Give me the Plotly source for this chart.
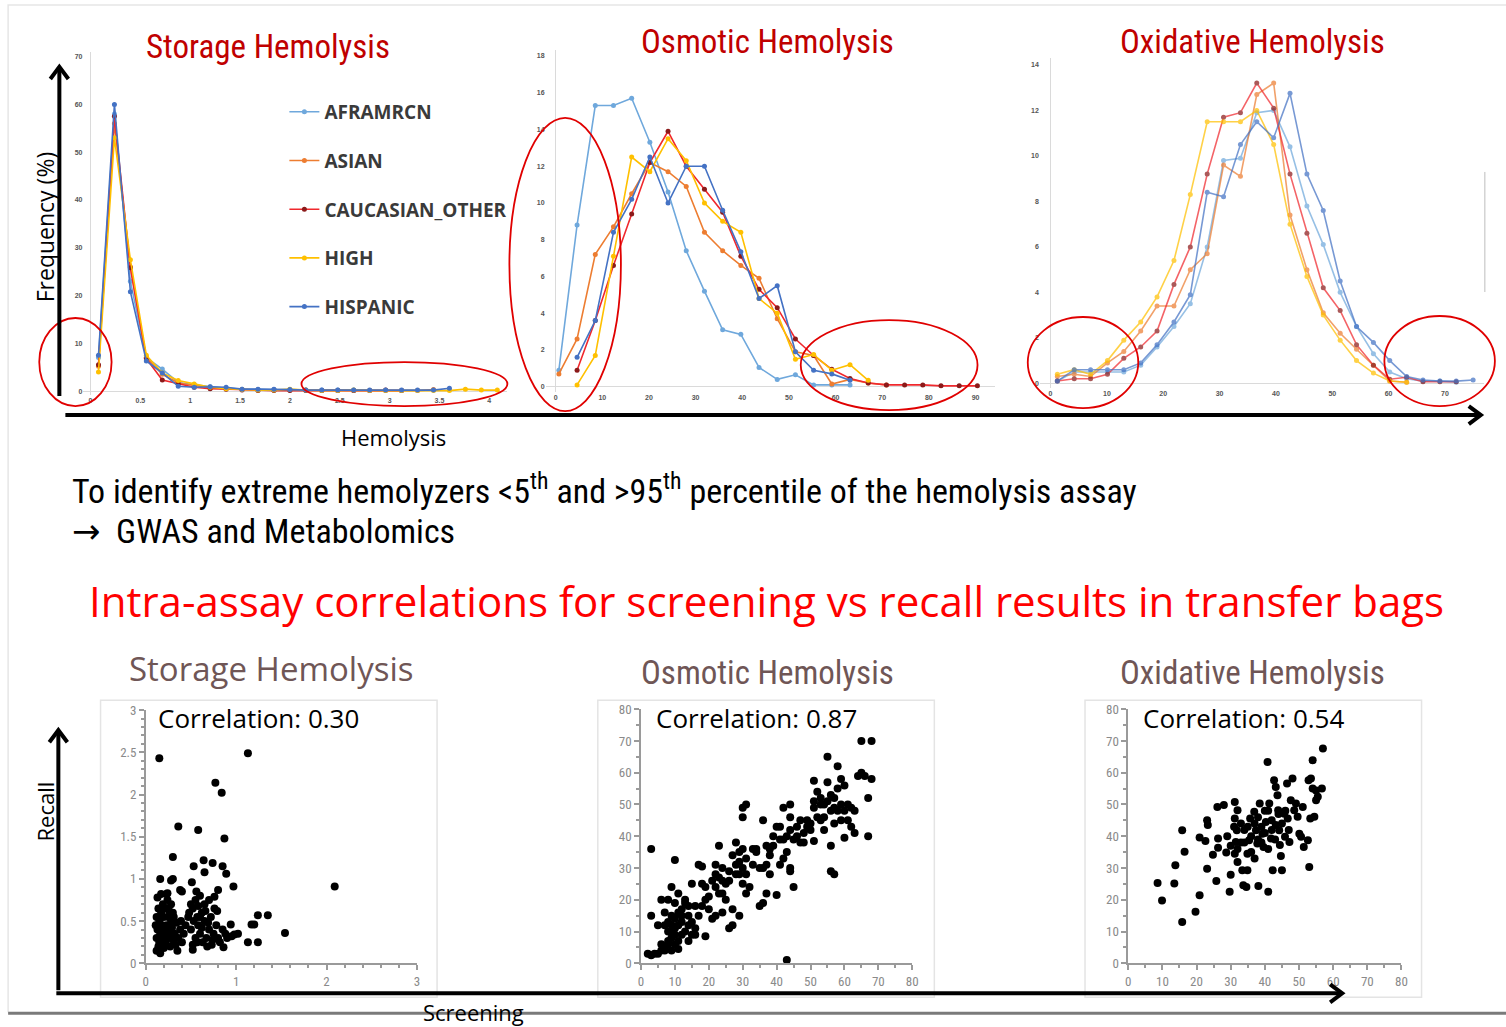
import plotly.graph_objects as go

W, H = 1506, 1027
# The captured page comes out slightly shrunk and shifted (page margin); reference
# pixel positions are mapped back through this small linear correction.
SX, OX = 0.9895, 7.9
SY, OY = 0.985, 7.1

# ---------------- DATA ----------------
series_names = ["AFRAMRCN", "ASIAN", "CAUCASIAN_OTHER", "HIGH", "HISPANIC"]
line_colors = ["#6FA8DC", "#ED7D31", "#F0282D", "#FFC000", "#4472C4"]
marker_colors = ["#6FA8DC", "#ED7D31", "#8B1A1A", "#FFC000", "#4472C4"]

# Storage hemolysis distribution (%), bins of hemolysis
storage_bins = [0.08, 0.24, 0.40, 0.56, 0.72, 0.88, 1.04, 1.20, 1.36, 1.52, 1.68, 1.84, 2.00,
                2.16, 2.32, 2.48, 2.64, 2.80, 2.96, 3.12, 3.28, 3.44, 3.60, 3.76, 3.92, 4.08]
storage_aframrcn = [7.0, 58.0, 23.0, 7.0, 4.6, 1.8, 1.3, 0.9, 0.6, 0.4, 0.3, 0.3, 0.2, 0.2, 0.2,
                    0.2, 0.2, None, None, None, None, None, None, None, None, None]
storage_asian = [5.2, 56.0, 26.0, 7.0, 3.5, 1.7, 1.2, 0.7, 0.5, 0.3, 0.2, 0.2, 0.2, 0.2, 0.1,
                 0.1, 0.1, 0.1, 0.1, 0.1, 0.1, 0.3, None, None, None, None]
storage_caucasian = [5.5, 57.5, 25.8, 6.8, 2.3, 1.5, 0.8, 0.5, 0.4, 0.2, 0.1, 0.1, 0.1, 0.1,
                     0.1, 0.1, 0.1, 0.1, 0.2, 0.1, None, None, None, None, None, None]
storage_high = [4.0, 53.0, 27.5, 7.5, 3.8, 2.2, 1.5, 0.8, 0.5, 0.3, 0.2, 0.2, 0.4, 0.2, 0.1,
                0.1, 0.2, 0.1, 0.1, 0.1, 0.1, 0.1, 0.1, 0.4, 0.2, 0.2]
storage_hispanic = [7.5, 60.0, 20.8, 6.3, 3.8, 1.0, 0.8, 0.9, 0.8, 0.4, 0.4, 0.4, 0.3, 0.2,
                    0.2, 0.2, 0.2, 0.2, 0.2, 0.2, 0.2, 0.2, 0.6, None, None, None]

# Osmotic hemolysis distribution (%)
osmotic_bins = [0.7, 4.6, 8.5, 12.4, 16.3, 20.2, 24.1, 28.0, 31.9, 35.8, 39.7, 43.6, 47.5,
                51.4, 55.3, 59.2, 63.1, 67.0, 70.9, 74.8, 78.7, 82.6, 86.5, 90.4]
osmotic_aframrcn = [0.9, 8.8, 15.3, 15.3, 15.7, 13.3, 10.6, 7.4, 5.2, 3.1, 2.85, 1.05, 0.4,
                    0.65, 0.1, 0.1, 0.1, None, None, None, None, None, None, None]
osmotic_asian = [0.7, 2.6, 7.2, 8.7, 10.5, 12.2, 11.7, 10.9, 8.4, 7.4, 6.6, 5.9, 3.7, 1.9,
                 1.7, 0.15, 0.4, 0.2, 0.1, None, None, None, None, None]
osmotic_caucasian = [None, 0.9, 3.6, 6.6, 9.4, 12.2, 13.9, 12.0, 10.75, 9.5, 7.1, 5.3, 4.3,
                     2.6, 1.7, 0.95, 0.45, 0.2, 0.1, 0.1, 0.1, 0.05, 0.05, 0.05]
osmotic_high = [None, 0.1, 1.7, 7.1, 12.5, 11.7, 13.5, 12.3, 10.0, 9.0, 8.4, 4.8, 4.0, 1.5,
                1.75, 0.9, 1.2, 0.35, None, None, None, None, None, None]
osmotic_hispanic = [None, 1.6, 3.6, 8.4, 10.2, 12.5, 10.0, 12.0, 12.0, 9.6, 7.35, 4.8, 5.5,
                    1.9, 0.9, 0.7, 0.35, None, None, None, None, None, None, None]

# Oxidative hemolysis distribution (%)
oxidative_bins = [1.2, 4.2, 7.1, 10.1, 13.0, 16.0, 18.9, 21.9, 24.8, 27.8, 30.7, 33.7, 36.6,
                  39.6, 42.5, 45.5, 48.4, 51.4, 54.3, 57.3, 60.2, 63.2, 66.1, 69.1, 72.0, 75.0]
oxidative_aframrcn = [0.1, 0.5, 0.5, 0.5, 0.5, 0.8, 1.6, 2.5, 3.5, 6.0, 9.8, 9.9, 11.9, 12.0,
                      10.4, 7.8, 6.1, 4.0, 2.5, 1.3, 0.5, 0.2, 0.1, 0.1, 0.05, None]
oxidative_asian = [0.3, 0.4, 0.3, 0.9, 1.4, 2.3, 3.4, 3.4, 5.0, 5.7, 9.6, 9.1, 12.7, 13.2,
                   7.4, 5.0, 3.1, 2.2, 1.5, 0.8, 0.1, 0.05, None, None, None, None]
oxidative_caucasian = [0.1, 0.2, 0.2, 0.4, 1.1, 1.6, 2.3, 4.35, 6.0, 9.2, 11.7, 11.9, 13.2,
                       12.1, 9.2, 6.6, 4.2, 3.2, 1.7, 0.8, 0.18, 0.27, 0.07, 0.07, 0.07, None]
oxidative_high = [0.4, 0.6, 0.4, 1.0, 1.9, 2.7, 3.8, 5.4, 8.3, 11.5, 11.5, 11.5, 12.0, 10.5,
                  7.0, 4.7, 3.0, 1.9, 1.0, 0.45, 0.1, 0.05, None, None, None, None]
oxidative_hispanic = [0.1, 0.6, 0.6, 0.6, 0.6, 0.9, 1.7, 2.7, 3.9, 8.4, 8.2, 10.5, 11.5, 10.8,
                      12.75, 9.2, 7.6, 4.5, 2.5, 1.8, 1.0, 0.3, 0.15, 0.1, 0.1, 0.15]

# Screening vs recall scatter data
storage_pairs = [
    (0.15, 2.43), (1.13, 2.49), (0.77, 2.14), (0.84, 2.02), (0.36, 1.62), (0.58, 1.58),
    (0.87, 1.48), (0.30, 1.26), (0.64, 1.22), (0.74, 1.19), (0.53, 1.15), (0.85, 1.15),
    (0.65, 1.08), (0.89, 1.06), (0.16, 1.00), (0.30, 1.00), (0.28, 0.98), (0.51, 0.96),
    (0.97, 0.91), (2.09, 0.91), (0.38, 0.87), (0.40, 0.85), (0.17, 0.82), (0.24, 0.83),
    (0.56, 0.85), (0.80, 0.87), (0.76, 0.79), (1.24, 0.57), (1.35, 0.57), (1.17, 0.46),
    (1.20, 0.46), (0.94, 0.46), (1.54, 0.36), (1.13, 0.25), (1.24, 0.25), (1.02, 0.35),
    (0.86, 0.19), (0.52, 0.16),
    (0.12, 0.15), (0.14, 0.20), (0.15, 0.25), (0.12, 0.30), (0.16, 0.35), (0.13, 0.40),
    (0.18, 0.45), (0.15, 0.50), (0.20, 0.55), (0.17, 0.60), (0.22, 0.65), (0.19, 0.70),
    (0.24, 0.75), (0.20, 0.18), (0.22, 0.25), (0.25, 0.30), (0.21, 0.35), (0.27, 0.40),
    (0.23, 0.45), (0.28, 0.50), (0.25, 0.55), (0.30, 0.60), (0.27, 0.20), (0.30, 0.28),
    (0.32, 0.35), (0.29, 0.42), (0.34, 0.48), (0.31, 0.55), (0.36, 0.30), (0.33, 0.22),
    (0.38, 0.40), (0.35, 0.15), (0.40, 0.25), (0.42, 0.35), (0.12, 0.55), (0.14, 0.65),
    (0.11, 0.45), (0.18, 0.30), (0.16, 0.12), (0.26, 0.62), (0.28, 0.70), (0.23, 0.82),
    (0.13, 0.78), (0.20, 0.40), (0.24, 0.35), (0.17, 0.22), (0.29, 0.33), (0.44, 0.45),
    (0.39, 0.50),
    (0.48, 0.60), (0.50, 0.70), (0.52, 0.65), (0.55, 0.75), (0.57, 0.55), (0.60, 0.80),
    (0.58, 0.45), (0.53, 0.50), (0.62, 0.60), (0.65, 0.50), (0.60, 0.35), (0.55, 0.30),
    (0.50, 0.40), (0.63, 0.25), (0.67, 0.30), (0.70, 0.40), (0.72, 0.55), (0.75, 0.35),
    (0.78, 0.45), (0.80, 0.30), (0.73, 0.22), (0.68, 0.20), (0.85, 0.40), (0.88, 0.35),
    (0.90, 0.30), (0.95, 0.32), (0.82, 0.25), (0.76, 0.65), (0.65, 0.70), (0.70, 0.75),
    (0.57, 0.25), (0.47, 0.55), (0.62, 0.42), (0.66, 0.62), (0.58, 0.68), (0.52, 0.22),
    (0.69, 0.48), (0.74, 0.28), (0.79, 0.62), (0.98, 0.34), (0.60, 0.55),
]
osmotic_pairs = [
    (3, 36), (10, 32.5), (3, 15), (5, 12), (2, 3), (3, 2.5), (4, 3), (5, 3), (6, 4), (7, 5),
    (8, 6), (7, 4), (9, 8), (8, 10), (9, 12), (10, 11), (8, 13), (9, 15), (10, 14), (11, 16),
    (7, 16), (8, 20), (9, 24), (10, 19), (11, 22), (12, 17), (12, 13), (13, 19), (14, 15),
    (15, 25), (14, 18), (13, 10), (12, 9), (11, 7), (15, 13), (16, 11), (17, 31), (18, 30.5),
    (19, 8.5), (18, 18), (19, 20), (20, 21), (18, 25), (17, 15), (16, 18), (20, 17), (21, 14),
    (23, 37), (22, 31), (24, 30), (23, 27), (22, 24), (24, 22), (25, 25), (26, 26), (25, 20),
    (24, 16), (22, 15), (26, 11), (27, 12), (27, 17), (28, 38), (29, 32), (30, 36), (28, 31),
    (29, 28), (30, 25), (31, 22), (30, 30), (31, 33), (29, 15), (30, 46), (30, 49), (31, 50),
    (32, 24), (33, 36), (34, 36), (35, 18), (36, 19), (36, 30), (37, 31), (37, 37), (38, 36),
    (36, 45), (37, 22), (38, 28), (39, 40), (40, 43), (41, 39), (40, 21.5), (41, 31), (42, 33),
    (43, 35), (43, 40), (42, 49), (44, 50), (44, 46), (44, 42), (44, 30), (44, 29), (45, 24),
    (45, 39), (46, 40), (47, 38), (48, 41), (49, 45), (50, 42), (51, 38.5), (51, 49), (51, 51),
    (51, 57.5), (52, 54), (53, 50), (53, 45), (54, 46), (54, 42), (55, 51), (55, 57), (55, 65),
    (56, 48), (56, 37), (56, 29), (57, 28), (57, 44), (57, 52), (58, 62), (58, 55), (59, 58),
    (59, 50), (60, 56), (60, 48), (60, 39.5), (61, 45), (62, 43), (62, 49), (63, 41), (64, 59),
    (65, 60), (65, 70), (66, 59), (67, 52), (67, 40), (68, 58), (68, 70), (43, 1), (13, 20),
    (14, 12), (6, 20), (9, 10), (10, 9), (7, 12), (8, 7), (11, 12), (12, 15), (10, 6), (9, 4),
    (6, 6), (11, 4.5), (14, 7), (15, 9), (16, 9), (19, 24), (21, 26), (22, 28), (23, 22),
    (24, 26), (26, 29), (27, 34), (28, 28), (29, 35), (31, 28), (33, 31), (34, 35), (35, 30),
    (38, 34), (39, 37), (41, 43), (42, 39), (46, 43), (47, 45), (48, 38), (50, 44), (52, 46),
    (53, 52), (54, 50), (56, 53), (58, 48), (59, 45), (61, 50), (63, 48), (57, 49), (49, 43),
]
oxidative_pairs = [
    (8.6, 25.3), (9.9, 19.8), (13.8, 30.9), (13.5, 25.1), (15.8, 41.9), (16.5, 35.1),
    (15.8, 13.0), (19.7, 16.2), (20.9, 21.4), (20.9, 39.6), (22.6, 38.5), (23.1, 29.8),
    (23.1, 45.0), (23.3, 43.5), (24.8, 34.2), (25.8, 25.9), (26.3, 39.3), (26.3, 36.4),
    (26.1, 49.2), (28.0, 49.8), (28.7, 34.9), (29.7, 22.5), (30.0, 27.9), (31.2, 50.8),
    (31.2, 45.6), (32.0, 48.2), (31.8, 41.9), (31.5, 38.2), (31.2, 34.5), (32.0, 31.9),
    (33.4, 29.3), (33.7, 24.6), (34.6, 24.0), (34.9, 29.3), (34.9, 34.5), (35.4, 38.7),
    (35.7, 45.6), (36.9, 47.7), (37.4, 41.9), (37.8, 37.7), (38.1, 24.3), (38.5, 50.3),
    (39.3, 40.8), (39.6, 36.6), (40.3, 44.5), (40.8, 63.4), (41.0, 22.5), (41.3, 50.3),
    (41.8, 39.3), (42.3, 29.3), (42.7, 57.6), (43.2, 55.5), (43.2, 43.5), (43.7, 52.9),
    (43.9, 48.2), (44.2, 41.9), (44.4, 37.2), (44.7, 33.8), (45.0, 29.3), (45.7, 47.1),
    (45.9, 39.8), (46.5, 56.6), (46.7, 45.6), (47.2, 38.2), (47.6, 51.3), (48.1, 58.2),
    (48.6, 48.2), (49.1, 50.3), (49.6, 46.1), (50.1, 40.8), (50.6, 39.8), (51.1, 49.2),
    (51.4, 36.6), (52.6, 38.7), (52.8, 57.6), (53.0, 30.3), (53.3, 45.6), (54.0, 63.9),
    (54.0, 55.0), (54.5, 46.1), (55.0, 51.3), (55.0, 54.4), (55.5, 52.4), (57.0, 67.6),
    (56.7, 55.0), (53.5, 58.2),
    (33, 38), (34, 42), (36, 40), (37, 44), (38, 46), (39, 38), (40, 41), (41, 36), (42, 45),
    (43, 39), (44, 47), (36, 35), (35, 43), (38, 39), (40, 48), (42, 42), (37, 33), (32, 36),
    (33, 44), (39, 43), (41, 48), (34, 38), (45, 44), (46, 48), (47, 42), (30, 37), (29, 40),
    (31, 43),
]

panel_titles = ["Storage Hemolysis", "Osmotic Hemolysis", "Oxidative Hemolysis"]
correlations = ["0.30", "0.87", "0.54"]

# ---------------- helpers (layout geometry, reference pixels -> paper) ----------------
def X(p):
    return ((p - OX) / SX) / W

def Y(p):
    return 1 - ((p - OY) / SY) / H

def rng(d0, d1, p0, v0, p1, v1):
    s = (v1 - v0) / (p1 - p0)
    return [v0 + (d0 - p0) * s, v0 + (d1 - p0) * s]

def dx(a, b):
    return [X(a), X(b)]

def dy(bottom, top):
    return [Y(bottom), Y(top)]

NARROW = "Liberation Sans Narrow, Roboto Condensed, Roboto, sans-serif"
OPEN = "Open Sans, sans-serif"

fig = go.Figure()

top_sets = [
    (storage_bins, [storage_aframrcn, storage_asian, storage_caucasian, storage_high, storage_hispanic], "x", "y", 1.0),
    (osmotic_bins, [osmotic_aframrcn, osmotic_asian, osmotic_caucasian, osmotic_high, osmotic_hispanic], "x2", "y2", 1.0),
    (oxidative_bins, [oxidative_aframrcn, oxidative_asian, oxidative_caucasian, oxidative_high, oxidative_hispanic], "x3", "y3", 0.72),
]
for k, (bins, sers, xa, ya, op) in enumerate(top_sets):
    for i, vals in enumerate(sers):
        fig.add_trace(go.Scatter(
            x=bins, y=vals, xaxis=xa, yaxis=ya, mode="lines+markers",
            name=series_names[i], legendgroup=series_names[i], showlegend=(k == 0),
            line=dict(color=line_colors[i], width=1.6),
            marker=dict(color=marker_colors[i], size=5),
            opacity=op, connectgaps=False, cliponaxis=False,
        ))

for pairs, xa, ya in [(storage_pairs, "x4", "y4"), (osmotic_pairs, "x5", "y5"), (oxidative_pairs, "x6", "y6")]:
    fig.add_trace(go.Scatter(
        x=[p[0] for p in pairs], y=[p[1] for p in pairs], xaxis=xa, yaxis=ya,
        mode="markers", marker=dict(color="black", size=8), showlegend=False,
        cliponaxis=False,
    ))

top_tick_font = dict(size=7, color="#555", family="Arial, sans-serif", weight="bold")
top_ax = dict(showgrid=False, showline=False, zeroline=True, zerolinecolor="#dadada",
              zerolinewidth=1, ticks="", tickfont=top_tick_font, fixedrange=True)

bot_tick_font = dict(size=13, color="#8a8a8a", family=NARROW)
minor_style = dict(ticklen=3, tickcolor="#9a9a9a", ticks="outside")
bot_ax = dict(showgrid=False, showline=True, linecolor="#9a9a9a", linewidth=1.5, zeroline=False,
              ticks="outside", ticklen=5, tickcolor="#9a9a9a", tickwidth=1.5,
              tickfont=bot_tick_font, fixedrange=True)

fig.update_layout(
    width=W, height=H, margin=dict(l=0, r=0, t=0, b=0),
    paper_bgcolor="white", plot_bgcolor="rgba(0,0,0,0)",
    showlegend=True,
    legend=dict(x=X(288), y=Y(93), xanchor="left", yanchor="top",
                font=dict(size=19, color="#3a3a3a", family=OPEN, weight="bold"),
                bgcolor="rgba(0,0,0,0)", tracegroupgap=21, itemwidth=30),
    xaxis=dict(top_ax, domain=dx(88, 510), range=rng(88, 510, 95, 0, 492, 4), tickvals=[0, 0.5, 1, 1.5, 2, 2.5, 3, 3.5, 4], anchor="y"),
    yaxis=dict(top_ax, domain=dy(395, 52), range=rng(395, 52, 391, 0, 56.7, 70), tickvals=[0, 10, 20, 30, 40, 50, 60, 70], anchor="x"),
    xaxis2=dict(top_ax, domain=dx(548, 995), range=rng(548, 995, 558, 0, 976, 90), tickvals=list(range(0, 91, 10)), anchor="y2"),
    yaxis2=dict(top_ax, domain=dy(392, 50), range=rng(392, 50, 386.7, 0, 56, 18), tickvals=list(range(0, 19, 2)), anchor="x2"),
    xaxis3=dict(top_ax, domain=dx(1040, 1482), range=rng(1040, 1482, 1050.7, 0, 1443.3, 70), tickvals=list(range(0, 71, 10)), anchor="y3"),
    yaxis3=dict(top_ax, domain=dy(388, 58), range=rng(388, 58, 383.3, 0, 65, 14), tickvals=list(range(0, 15, 2)), anchor="x3"),
    xaxis4=dict(bot_ax, domain=dx(150, 420), range=[0, 3], tickvals=[0, 1, 2, 3], anchor="y4",
                minor=dict(minor_style, dtick=0.2)),
    yaxis4=dict(bot_ax, domain=dy(963, 710), range=[0, 3], tickvals=[0, 0.5, 1, 1.5, 2, 2.5, 3], anchor="x4",
                minor=dict(minor_style, dtick=0.1)),
    xaxis5=dict(bot_ax, domain=dx(643, 913), range=[0, 80], tickvals=list(range(0, 81, 10)), anchor="y5",
                minor=dict(minor_style, dtick=5)),
    yaxis5=dict(bot_ax, domain=dy(963, 709), range=[0, 80], tickvals=list(range(0, 81, 10)), anchor="x5",
                minor=dict(minor_style, dtick=5)),
    xaxis6=dict(bot_ax, domain=dx(1128, 1400), range=[0, 80], tickvals=list(range(0, 81, 10)), anchor="y6",
                minor=dict(minor_style, dtick=5)),
    yaxis6=dict(bot_ax, domain=dy(963, 709), range=[0, 80], tickvals=list(range(0, 81, 10)), anchor="x6",
                minor=dict(minor_style, dtick=5)),
)

shapes = []
def pline(pts, color, width, layer="above"):
    path = "M " + " L ".join(f"{X(a):.5f},{Y(b):.5f}" for a, b in pts)
    shapes.append(dict(type="path", xref="paper", yref="paper", path=path,
                       line=dict(color=color, width=width), layer=layer))

# slide border
pline([(13, 1012), (13, 5), (1506, 5)], "#e6e6e6", 1.5, "below")
pline([(13, 1013), (1506, 1013)], "#7a7a7a", 3)
# faint edge of the pasted oxidative picture
pline([(1483, 172), (1483, 292)], "#bdbdbd", 1)
# frames of bottom scatter panels
for (a, b) in [(105, 440), (600, 935), (1085, 1420)]:
    shapes.append(dict(type="rect", xref="paper", yref="paper", x0=X(a), x1=X(b),
                       y0=Y(997), y1=Y(700), line=dict(color="#e4e4e4", width=1.5),
                       layer="below"))
# red ellipses
for (a, b, t, u) in [(44, 116, 318, 406), (305, 510, 362, 406), (512, 623, 118, 411),
                     (802, 978, 320, 410), (1028, 1138, 317, 408), (1383, 1493, 316, 406)]:
    shapes.append(dict(type="circle", xref="paper", yref="paper", x0=X(a), x1=X(b),
                       y0=Y(u), y1=Y(t), line=dict(color="#E00000", width=1.8)))
# big axis arrows (shafts + chevron heads)
pline([(64, 396), (64, 68)], "black", 4)
pline([(55, 79), (64, 67), (73, 79)], "black", 4)
pline([(70, 415), (1478, 415)], "black", 4)
pline([(1467, 406), (1479, 415), (1467, 424)], "black", 4)
pline([(63, 990), (63, 731)], "black", 4)
pline([(54, 742), (63, 730), (72, 742)], "black", 4)
pline([(61, 993), (1340, 993)], "black", 4)
pline([(1329, 984), (1341, 993), (1329, 1002)], "black", 4)
fig.update_layout(shapes=shapes)

ann = []
def text(x, y, s, size, color="black", family=OPEN, xanchor="center", angle=0, weight="normal"):
    ann.append(dict(x=X(x), y=Y(y), xref="paper", yref="paper", text=s, showarrow=False,
                    xanchor=xanchor, yanchor="middle", textangle=angle,
                    font=dict(size=size, color=color, family=family, weight=weight)))

# top titles
text(272, 47, panel_titles[0], 33, "#C00000", NARROW)
text(769, 42, panel_titles[1], 33, "#C00000", NARROW)
text(1252, 42, panel_titles[2], 33, "#C00000", NARROW)
# axis labels, top
text(50, 227, "Frequency (%)", 23, angle=-90)
text(397, 437, "Hemolysis", 22)
# text block
text(75, 489, "To identify extreme hemolyzers &lt;5<sup>th</sup> and &gt;95<sup>th</sup> percentile of the hemolysis assay",
     34, family=NARROW, xanchor="left")
text(75, 531, "<span style='font-family:DejaVu Sans'>\u2192</span>  GWAS and Metabolomics",
     34, family=NARROW, xanchor="left")
text(768, 600, "Intra-assay correlations for screening vs recall results in transfer bags", 42, "#FF0000")
# bottom titles
text(275, 668, panel_titles[0], 33, "#6F5656")
text(769, 672, panel_titles[1], 33, "#6F5656", NARROW)
text(1252, 672, panel_titles[2], 33, "#6F5656", NARROW)
# correlations
for xpos, c in zip([160, 656, 1141], correlations):
    text(xpos, 718, "Correlation: " + c, 26, xanchor="left")
# bottom labels
text(50, 811, "Recall", 22, angle=-90)
text(476, 1012, "Screening", 22)

fig.update_layout(annotations=ann)
fig.write_html("out.html")
